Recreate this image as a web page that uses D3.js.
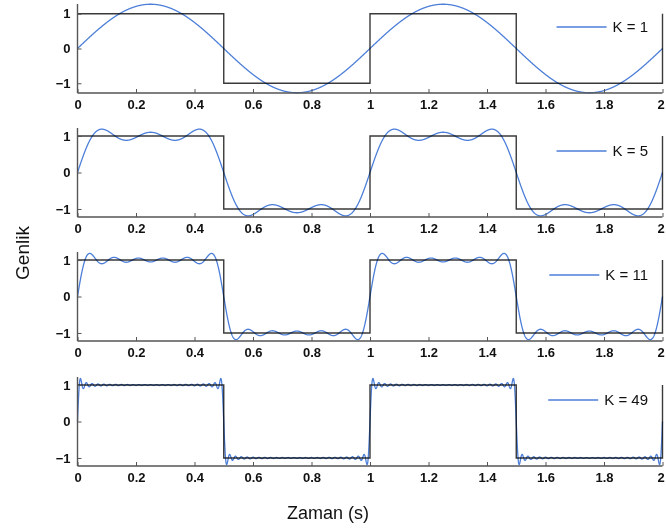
<!DOCTYPE html>
<html>
<head>
<meta charset="utf-8">
<script src="https://cdn.jsdelivr.net/npm/d3@7"></script>
<style>
  html, body { margin: 0; padding: 0; background: #fff; }
  svg { display: block; }
  text { font-family: "Liberation Sans", Arial, Helvetica, sans-serif; }
</style>
</head>
<body>
<svg id="chart" width="666" height="529"></svg>
<script>
// ---- data ----
const harmonicOrders = [1, 5, 11, 49];           // K: highest odd harmonic in each panel
const legendLabels = ["K = 1", "K = 5", "K = 11", "K = 49"];
const squareBreaks = [0, 0.5, 1, 1.5, 2];        // square-wave switching instants (s)
const squareLevels = [1, -1, 1, -1];             // level held in each interval
const xTicks = [0, 0.2, 0.4, 0.6, 0.8, 1, 1.2, 1.4, 1.6, 1.8, 2];
const yTicks = [-1, 0, 1];
const yLimits = [[-1.28, 1.28], [-1.22, 1.22], [-1.22, 1.22], [-1.22, 1.22]];
const xLabel = "Zaman (s)";
const yLabel = "Genlik";

// ---- layout ----
const left = 77.5, right = 662.5;
const panelTops = [4, 128, 252, 377];
const panelH = 89;
const blue = "#4d7fd8";
const gray = "#3a3a3a";
const axisColor = "#555";

const svg = d3.select("#chart");
const x = d3.scaleLinear().domain([0, 2]).range([left, right]);

// time samples of the Fourier partial sum
const nSamples = 2400;
const tSamples = d3.range(nSamples + 1).map(i => 2 * i / nSamples);
function partialSum(t, K) {
  let s = 0;
  for (let k = 1; k <= K; k += 2) s += (4 / (Math.PI * k)) * Math.sin(2 * Math.PI * k * t);
  return s;
}

// square wave polyline points
const squarePts = [];
squareLevels.forEach((v, i) => {
  squarePts.push([squareBreaks[i], v]);
  squarePts.push([squareBreaks[i + 1], v]);
});
squarePts.push([2, 1]);

harmonicOrders.forEach((K, p) => {
  const top = panelTops[p], bottom = top + panelH;
  const y = d3.scaleLinear().domain(yLimits[p]).range([bottom, top]);
  const g = svg.append("g");

  // square wave
  g.append("path")
    .datum(squarePts)
    .attr("fill", "none")
    .attr("stroke", gray)
    .attr("stroke-width", 1.4)
    .attr("d", d3.line().x(d => x(d[0])).y(d => y(d[1])));

  // Fourier approximation
  const pts = tSamples.map(t => [t, partialSum(t, K)]);
  g.append("path")
    .datum(pts)
    .attr("fill", "none")
    .attr("stroke", blue)
    .attr("stroke-width", 1.3)
    .attr("stroke-linejoin", "round")
    .style("mix-blend-mode", "multiply")
    .attr("d", d3.line().x(d => x(d[0])).y(d => y(d[1])));

  // axes
  const xAxis = d3.axisBottom(x).tickValues(xTicks).tickSize(-4).tickPadding(7)
    .tickFormat(d => d3.format("")(d));
  const gx = g.append("g").attr("transform", `translate(0,${bottom})`).call(xAxis);
  const yAxis = d3.axisLeft(y).tickValues(yTicks).tickSize(-4).tickPadding(7)
    .tickFormat(d => d < 0 ? "\u2212" + Math.abs(d) : String(d));
  const gy = g.append("g").attr("transform", `translate(${left},0)`).call(yAxis);
  [gx, gy].forEach(a => {
    a.select(".domain").attr("stroke", axisColor).attr("stroke-width", 1.4)
      .attr("d", a === gx ? `M${left},0H${right}` : `M0,${top}V${bottom}`);
    a.selectAll(".tick line").attr("stroke", axisColor).attr("stroke-width", 1);
    a.selectAll(".tick text").attr("fill", "#111").attr("font-size", 13).attr("font-weight", "bold");
  });
  // keep the last x label inside the frame
  gx.selectAll(".tick text").filter(d => d === 2).attr("dx", -2);

  // legend
  const ly = top + 23;
  const txt = g.append("text")
    .attr("x", 648).attr("y", ly).attr("dy", "0.35em")
    .attr("text-anchor", "end").attr("font-size", 15).attr("fill", "#111")
    .text(legendLabels[p]);
  const tw = txt.node().getComputedTextLength();
  const lineEnd = 648 - tw - 6;
  g.append("line")
    .attr("x1", lineEnd - 50).attr("x2", lineEnd).attr("y1", ly).attr("y2", ly)
    .attr("stroke", blue).attr("stroke-width", 1.3);
});

// axis titles
svg.append("text")
  .attr("x", 328).attr("y", 513).attr("dy", "0.35em")
  .attr("text-anchor", "middle").attr("font-size", 18).attr("fill", "#111")
  .text(xLabel);
svg.append("text")
  .attr("transform", "translate(22,253) rotate(-90)")
  .attr("dy", "0.35em")
  .attr("text-anchor", "middle").attr("font-size", 19).attr("fill", "#111")
  .text(yLabel);
</script>
</body>
</html>
